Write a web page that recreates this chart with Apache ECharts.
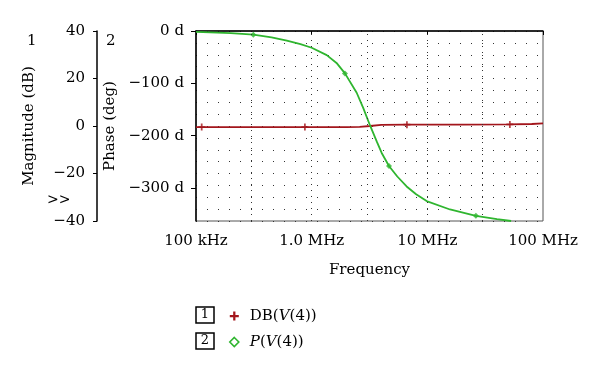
<!DOCTYPE html>
<html><head><meta charset="utf-8">
<script src="https://cdn.jsdelivr.net/npm/echarts@6/dist/echarts.min.js"></script>
<style>html,body{margin:0;padding:0;background:#fff}#c{width:600px;height:373px}</style>
</head><body><div id="c"></div>
<script>
var xTickValues = [1e5, 1e6, 1e7, 1e8];
var xTickLabels = ['100 kHz', '1.0 MHz', '10 MHz', '100 MHz'];
var phaseTicks = [0, -100, -200, -300];
var magTicks = [40, 20, 0, -20, -40];

var phaseFreq = [1e5, 2e5, 3.13e5, 4.5e5, 6.1e5, 8e5, 1e6, 1.35e6, 1.64e6, 1.94e6, 2.45e6, 2.79e6, 3.19e6, 3.65e6, 4.03e6, 4.66e6, 5.5e6, 6.62e6, 8e6, 9.86e6, 1.57e7, 2.63e7, 4e7, 5.3e7];
var phaseDeg = [-1.5, -4, -7, -12, -18.5, -25, -32, -46, -61, -81, -118, -147, -180, -211, -233, -258, -278, -297, -312, -325, -341, -353, -359.5, -363];
var phaseMarkIdx = [2, 9, 15, 21];

var magFreq = [1e5, 1.12e5, 8.74e5, 2e6, 2.6e6, 3.2e6, 4e6, 6.66e6, 2e7, 5.17e7, 8e7, 1e8];
var magDb = [-0.45, -0.45, -0.45, -0.45, -0.4, 0, 0.45, 0.55, 0.6, 0.65, 0.85, 1.1];
var magMarkIdx = [1, 2, 7, 9];

var gridFreqs = [3e5, 1e6, 3e6, 1e7, 3e7];

var RED = '#a3161c', GREEN = '#2fb52f';
var FONT = 'DejaVu Serif';

function pairs(xs, ys) { return xs.map(function (x, i) { return [x, ys[i]]; }); }
function pick(xs, ys, idx) { return idx.map(function (i) { return [xs[i], ys[i]]; }); }
function minus(v) { return String(v).replace('-', '\u2212'); }

var chart = echarts.init(document.getElementById('c'));
chart.setOption({
  animation: false,
  textStyle: { fontFamily: FONT },
  grid: { left: 196, right: 57, top: 31, bottom: 152, show: true, borderColor: '#555', borderWidth: 1 },
  xAxis: [{
    type: 'log', logBase: 10, min: 1e5, max: 1e8,
    name: 'Frequency', nameLocation: 'middle', nameGap: 42,
    nameTextStyle: { fontFamily: FONT, fontSize: 15, color: '#000' },
    axisLine: { lineStyle: { color: '#000', width: 1.5 } },
    axisTick: { length: 4, lineStyle: { color: '#000' } },
    axisLabel: { fontFamily: FONT, fontSize: 15, color: '#000', margin: 13,
      formatter: function (v) { var i = xTickValues.indexOf(v); return i >= 0 ? xTickLabels[i] : ''; } },
    splitLine: { show: false }
  }],
  yAxis: [{
    type: 'value', min: -363, max: 0, position: 'left',
    name: 'Phase (deg)', nameLocation: 'middle', nameRotate: 90, nameGap: 75,
    nameTextStyle: { fontFamily: FONT, fontSize: 15, color: '#000' },
    axisLine: { show: true, lineStyle: { color: '#000', width: 1.5 } },
    axisTick: { show: true, length: 5, customValues: phaseTicks, lineStyle: { color: '#000' } },
    axisLabel: { fontFamily: FONT, fontSize: 15, color: '#000', margin: 12, customValues: phaseTicks,
      formatter: function (v) { return minus(v) + ' d'; } },
    splitLine: { show: false }
  }, {
    type: 'value', min: -40, max: 40, interval: 20, position: 'left', offset: 99,
    name: 'Magnitude (dB)', nameLocation: 'middle', nameRotate: 90, nameGap: 60,
    nameTextStyle: { fontFamily: FONT, fontSize: 15, color: '#000' },
    axisLine: { show: true, lineStyle: { color: '#000', width: 1.5 } },
    axisTick: { show: true, length: 4, lineStyle: { color: '#000' } },
    axisLabel: { fontFamily: FONT, fontSize: 15, color: '#000', margin: 12,
      formatter: function (v) { return minus(v); } },
    splitLine: { show: false }
  }, {
    type: 'value', min: 0, max: 16, interval: 1, position: 'right',
    axisLine: { show: false }, axisTick: { show: false }, axisLabel: { show: false },
    splitLine: { show: true, lineStyle: { color: '#333', width: 1, type: [1, 10], dashOffset: 0 } }
  }],
  legend: {
    orient: 'vertical', left: 224, top: 302, itemGap: 8, itemWidth: 9, itemHeight: 9,
    textStyle: { fontFamily: FONT, fontSize: 15, color: '#000', lineHeight: 18, padding: [0, 0, 0, 6],
      rich: { n: { fontFamily: FONT, fontSize: 15, color: '#000' }, i: { fontFamily: FONT, fontSize: 15, fontStyle: 'italic', color: '#000' } } },
    formatter: function (name) {
      if (name === 'DB(V(4))') return '{n|DB(}{i|V}{n|(4))}';
      return '{i|P}{n|(}{i|V}{n|(4))}';
    },
    data: [
      { name: 'DB(V(4))', icon: 'path://M3,0H5V3H8V5H5V8H3V5H0V3H3Z', itemStyle: { color: RED } },
      { name: 'P(V(4))', icon: 'path://M4,0L8,4L4,8L0,4Z', itemStyle: { color: '#fff', borderColor: GREEN, borderWidth: 1.6 } }
    ]
  },
  graphic: [
    { type: 'text', left: 27, top: 34, style: { text: '1', font: '15px "DejaVu Serif"', fill: '#000' } },
    { type: 'text', left: 106, top: 34, style: { text: '2', font: '15px "DejaVu Serif"', fill: '#000' } },
    { type: 'text', left: 47, top: 193, style: { text: '>>', font: '14px "DejaVu Serif"', fill: '#000' } },
    { type: 'rect', shape: { x: 196, y: 307, width: 18, height: 16 }, style: { fill: 'none', stroke: '#000', lineWidth: 1.5 } },
    { type: 'text', x: 205, y: 315, style: { text: '1', font: '13px "DejaVu Serif"', fill: '#000', align: 'center', verticalAlign: 'middle' } },
    { type: 'rect', shape: { x: 196, y: 333, width: 18, height: 16 }, style: { fill: 'none', stroke: '#000', lineWidth: 1.5 } },
    { type: 'text', x: 205, y: 341, style: { text: '2', font: '13px "DejaVu Serif"', fill: '#000', align: 'center', verticalAlign: 'middle' } }
  ],
  series: [
    {
      type: 'scatter', xAxisIndex: 0, yAxisIndex: 0, data: [], z: 1, silent: true,
      markLine: { silent: true, symbol: 'none', label: { show: false },
        lineStyle: { color: '#333', width: 1, type: [1, 5] },
        data: gridFreqs.map(function (f) { return { xAxis: f }; }) }
    },
    {
      name: 'DB(V(4))', type: 'line', xAxisIndex: 0, yAxisIndex: 1,
      data: pairs(magFreq, magDb), showSymbol: false, smooth: false,
      lineStyle: { color: RED, width: 1.8 }, itemStyle: { color: RED }
    },
    {
      name: 'P(V(4))', type: 'line', xAxisIndex: 0, yAxisIndex: 0,
      data: pairs(phaseFreq, phaseDeg), showSymbol: false, smooth: false,
      lineStyle: { color: GREEN, width: 1.8 }, itemStyle: { color: GREEN }, clip: true
    },
    {
      type: 'scatter', xAxisIndex: 0, yAxisIndex: 1, data: pick(magFreq, magDb, magMarkIdx),
      symbol: 'path://M3,0H5V3H8V5H5V8H3V5H0V3H3Z', symbolSize: 7, itemStyle: { color: RED }, z: 3
    },
    {
      type: 'scatter', xAxisIndex: 0, yAxisIndex: 0, data: pick(phaseFreq, phaseDeg, phaseMarkIdx),
      symbol: 'diamond', symbolSize: 6, itemStyle: { color: GREEN }, z: 3
    }
  ]
});
</script></body></html>
